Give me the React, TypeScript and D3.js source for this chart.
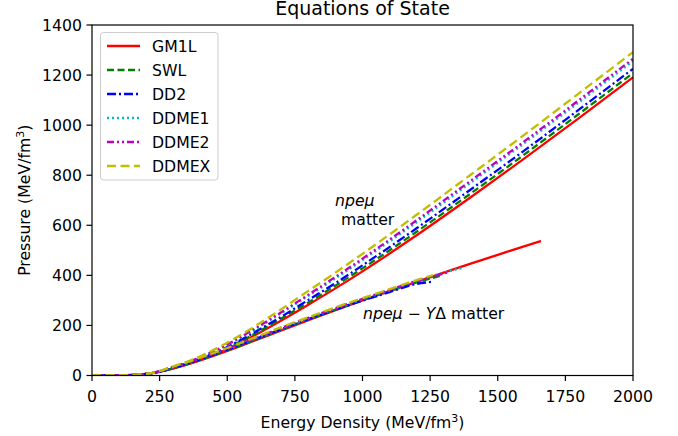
import React from 'react';
import * as d3 from 'd3';

// npe-mu matter
const eN = [0, 100, 200, 300, 400, 500, 600, 700, 800, 900, 1000, 1200, 1400, 1600, 1800, 2000];
const gm1lN = [0, 0.5, 6, 28, 62, 106, 160, 220, 283, 348, 416, 560, 712, 868, 1028, 1191];
const swlN = [0, 0.5, 6, 29, 65, 110, 166, 228, 292, 359, 428, 574, 727, 884, 1045, 1208];
const dd2N = [0, 0.5, 6, 31, 67, 114, 172, 235, 302, 369, 440, 588, 743, 900, 1062, 1225];
const ddme1N = [0, 0.5, 6, 33, 72, 122, 182, 249, 318, 388, 461, 612, 770, 929, 1091, 1256];
const ddme2N = [0, 0.5, 6, 34, 73, 124, 186, 253, 323, 394, 467, 620, 778, 937, 1100, 1265];
const ddmexN = [0, 0.5, 6, 36, 77, 131, 195, 265, 338, 411, 486, 642, 802, 963, 1127, 1292];

// npe-mu-Y-Delta matter
const gm1lHE = [0, 100, 200, 300, 400, 500, 600, 700, 800, 900, 1000, 1100, 1200, 1300, 1400, 1500, 1600, 1660];
const gm1lH = [0, 0.5, 6, 28, 60, 98, 139, 180, 221, 261, 300, 337, 374, 411, 447, 482, 517, 537];
const swlHE = [0, 100, 200, 300, 400, 500, 600, 700, 800, 900, 1000, 1100, 1200, 1298];
const swlH = [0, 0.5, 6, 29, 63, 100, 141, 183, 224, 263, 301, 337, 372, 401];
const dd2HE = [0, 100, 200, 300, 400, 500, 600, 700, 800, 900, 1000, 1100, 1200, 1257];
const dd2H = [0, 0.5, 6, 31, 65, 103, 144, 185, 225, 263, 299, 333, 366, 374];
const ddme1HE = [0, 100, 200, 300, 400, 500, 600, 700, 800, 900, 1000, 1100, 1200, 1300, 1368];
const ddme1H = [0, 0.5, 6, 33, 68, 106, 146, 188, 228, 267, 304, 340, 377, 410, 429];
const ddme2HE = [0, 100, 200, 300, 400, 500, 600, 700, 800, 900, 1000, 1100, 1200, 1300, 1323];
const ddme2H = [0, 0.5, 6, 34, 69, 107, 148, 190, 230, 269, 306, 342, 378, 407, 414];
const ddmexHE = [0, 100, 200, 300, 400, 500, 600, 700, 800, 900, 1000, 1100, 1200, 1261];
const ddmexH = [0, 0.5, 6, 36, 71, 110, 151, 193, 233, 272, 309, 345, 381, 401];

const xTicks = [0, 250, 500, 750, 1000, 1250, 1500, 1750, 2000];
const yTicks = [0, 200, 400, 600, 800, 1000, 1200, 1400];

const series = [
  { name: 'GM1L', color: '#ff0000', dash: 'none', n: gm1lN, he: gm1lHE, h: gm1lH },
  { name: 'SWL', color: '#008000', dash: '7,3.5', n: swlN, he: swlHE, h: swlH },
  { name: 'DD2', color: '#0000ff', dash: '9,3,2,3', n: dd2N, he: dd2HE, h: dd2H },
  { name: 'DDME1', color: '#00bfbf', dash: '2,3', n: ddme1N, he: ddme1HE, h: ddme1H },
  { name: 'DDME2', color: '#bf00bf', dash: '7,3,2,3,2,3', n: ddme2N, he: ddme2HE, h: ddme2H },
  { name: 'DDMEX', color: '#bfbf00', dash: '9,4.5', n: ddmexN, he: ddmexHE, h: ddmexH },
];

const W = 678;
const H = 436;
const left = 92, right = 633, top = 25, bottom = 375.5;
const font = 'DejaVu Sans, sans-serif';
const fs = 15.7;

export default function App() {
  const x = d3.scaleLinear().domain([0, 2000]).range([left, right]);
  const y = d3.scaleLinear().domain([0, 1400]).range([bottom, top]);
  const line = d3.line<[number, number]>()
    .x(d => x(d[0]))
    .y(d => y(d[1]))
    .curve(d3.curveMonotoneX);

  return (
    <svg width={W} height={H} style={{ position: 'absolute', left: 0, top: 0 }} fontFamily={font}>
      <rect width={W} height={H} fill="#fff" />
      <defs>
        <clipPath id="plot">
          <rect x={left} y={top} width={right - left} height={bottom - top} />
        </clipPath>
      </defs>
      <g clipPath="url(#plot)">
        {series.map(s => (
          <g key={s.name}>
            <path d={line(eN.map((e, i) => [e, s.n[i]]))!} fill="none" stroke={s.color}
              strokeWidth={2.3} strokeDasharray={s.dash} />
            <path d={line(s.he.map((e, i) => [e, s.h[i]]))!} fill="none" stroke={s.color}
              strokeWidth={2.3} strokeDasharray={s.dash} />
          </g>
        ))}
      </g>

      {/* axes frame */}
      <rect x={left} y={top} width={right - left} height={bottom - top} fill="none" stroke="#000" strokeWidth={1.2} />

      {xTicks.map(t => (
        <g key={t}>
          <line x1={x(t)} x2={x(t)} y1={bottom} y2={bottom + 5.5} stroke="#000" strokeWidth={1.2} />
          <text x={x(t)} y={402} textAnchor="middle" fontSize={fs}>{t}</text>
        </g>
      ))}
      {yTicks.map(t => (
        <g key={t}>
          <line x1={left - 5.5} x2={left} y1={y(t)} y2={y(t)} stroke="#000" strokeWidth={1.2} />
          <text x={82} y={y(t)} dy="0.36em" textAnchor="end" fontSize={fs}>{t}</text>
        </g>
      ))}

      <text x={(left + right) / 2} y={428} textAnchor="middle" fontSize={fs}>
        Energy Density (MeV/fm<tspan dy={-6} fontSize={11}>3</tspan><tspan dy={6}>)</tspan>
      </text>
      <text transform={`translate(30,${(top + bottom) / 2}) rotate(-90)`} textAnchor="middle" fontSize={fs}>
        Pressure (MeV/fm<tspan dy={-6} fontSize={11}>3</tspan><tspan dy={6}>)</tspan>
      </text>
      <text x={(left + right) / 2} y={15} textAnchor="middle" fontSize={19}>Equations of State</text>

      {/* annotations */}
      <text x={335} y={206} fontSize={fs} fontStyle="italic">npeμ</text>
      <text x={341} y={225} fontSize={fs}>matter</text>
      <text x={363} y={319} fontSize={fs}>
        <tspan fontStyle="italic">npeμ</tspan> − <tspan fontStyle="italic">Y</tspan>Δ matter
      </text>

      {/* legend */}
      <rect x={100.5} y={32.5} width={117.5} height={147.5} rx={3} fill="#fff" fillOpacity={0.8} stroke="#cccccc" />
      {series.map((s, i) => (
        <g key={s.name} transform={`translate(0,${46 + i * 24})`}>
          <line x1={107} x2={140} y1={0} y2={0} stroke={s.color} strokeWidth={2.3} strokeDasharray={s.dash} />
          <text x={152} y={0} dy="0.36em" fontSize={fs}>{s.name}</text>
        </g>
      ))}
    </svg>
  );
}
